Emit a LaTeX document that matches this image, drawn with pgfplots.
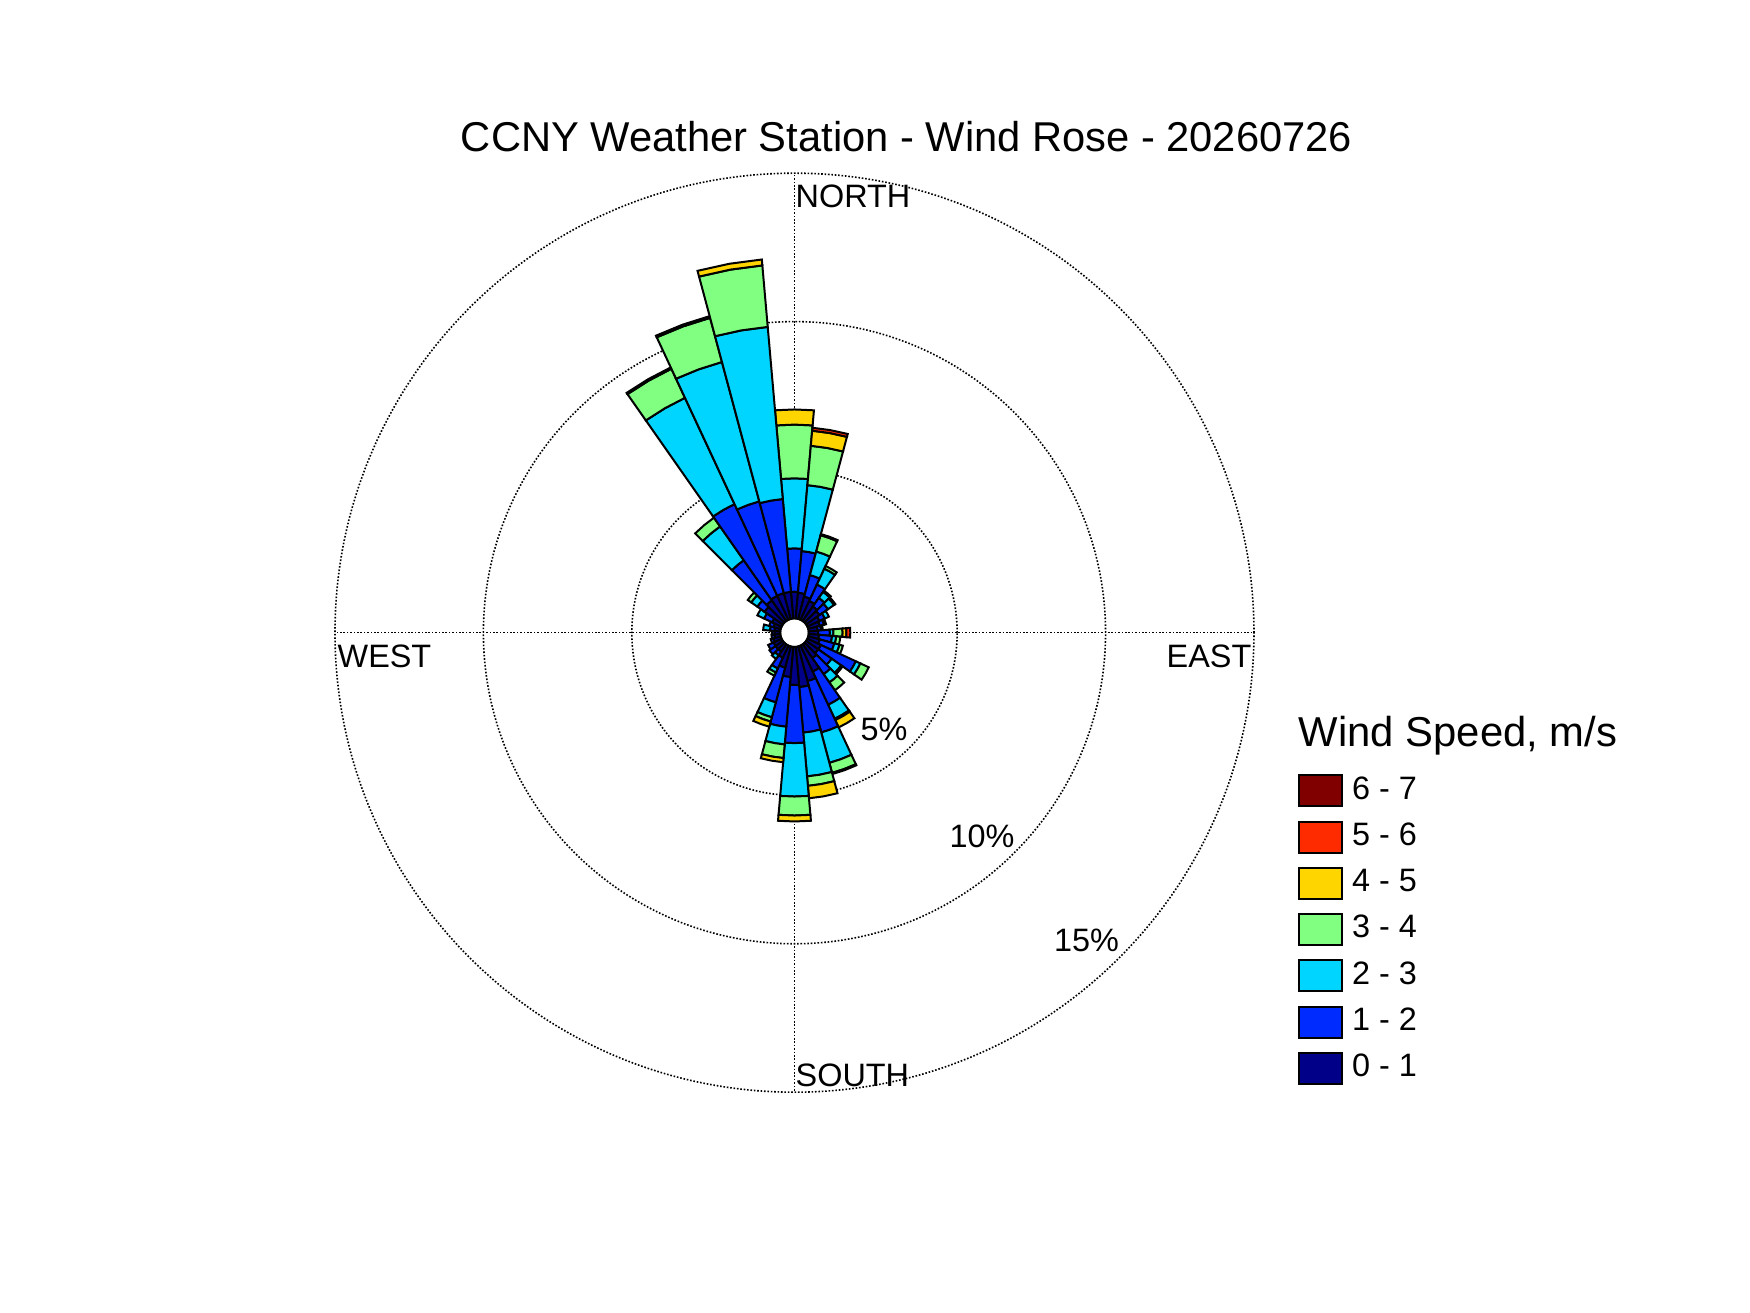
\documentclass[border=0pt]{standalone}
\usepackage{fontspec}
\setmainfont{Liberation Sans}
\usepackage{pgfplots}
\pgfplotsset{compat=1.18}
\usepackage{pgfplotstable}
\usepgfplotslibrary{polar}

\definecolor{ws1}{RGB}{0,0,136}
\definecolor{ws2}{RGB}{0,43,255}
\definecolor{ws3}{RGB}{0,213,255}
\definecolor{ws4}{RGB}{128,255,128}
\definecolor{ws5}{RGB}{255,213,0}
\definecolor{ws6}{RGB}{255,43,0}
\definecolor{ws7}{RGB}{128,0,0}

% cumulative frequency (%) at the top of each speed class, per direction (deg from north)
\pgfplotstableread{
b   c1   c2   c3   c4    c5    c6    c7
0   0.90 2.36 4.72 6.53  7.04  7.04  7.04
10  0.87 2.28 4.51 5.84  6.35  6.45  6.45
20  0.78 1.53 2.35 2.92  2.96  2.96  2.96
30  0.70 1.31 1.90 2.00  2.00  2.00  2.00
40  0.60 0.95 1.20 1.25  1.25  1.25  1.25
50  0.55 0.90 1.15 1.20  1.20  1.20  1.20
60  0.45 0.65 0.80 0.80  0.80  0.80  0.80
70  0.40 0.55 0.62 0.62  0.62  0.62  0.62
80  0.30 0.42 0.48 0.48  0.48  0.48  0.48
90  0.32 0.71 0.83 1.14  1.27  1.40  1.40
100 0.35 0.79 0.93 1.07  1.07  1.07  1.07
110 0.40 0.91 1.09 1.21  1.21  1.21  1.21
120 0.50 1.80 1.97 2.28  2.28  2.28  2.28
130 0.50 1.05 1.44 1.50  1.50  1.50  1.50
140 0.57 1.23 1.57 1.89  1.89  1.89  1.89
150 0.97 2.20 2.72 2.77  3.04  3.04  3.04
160 1.21 3.00 4.06 4.41  4.45  4.45  4.45
170 1.36 2.90 4.38 4.70  5.12  5.12  5.12
180 1.28 3.24 5.04 5.68  5.88  5.88  5.88
190 1.02 2.70 3.30 3.76  3.90  3.90  3.90
200 0.74 1.95 2.47 2.62  2.80  2.80  2.80
210 0.45 0.85 1.00 1.12  1.12  1.12  1.12
220 0.30 0.45 0.60 0.60  0.60  0.60  0.60
230 0.30 0.55 0.55 0.55  0.55  0.55  0.55
240 0.30 0.50 0.50 0.50  0.50  0.50  0.50
250 0.25 0.35 0.35 0.35  0.35  0.35  0.35
260 0.20 0.30 0.30 0.30  0.30  0.30  0.30
270 0.20 0.28 0.28 0.28  0.28  0.28  0.28
280 0.20 0.35 0.58 0.58  0.58  0.58  0.58
290 0.25 0.40 0.40 0.40  0.40  0.40  0.40
300 0.35 0.65 0.90 0.90  0.90  0.90  0.90
310 0.75 1.05 1.30 1.44  1.44  1.44  1.44
320 0.85 2.50 3.89 4.25  4.25  4.25  4.25
330 0.89 4.30 8.25 9.33  9.38  9.38  9.38
340 0.90 4.10 8.96 10.50 10.56 10.56 10.56
350 0.90 4.04 9.86 11.94 12.14 12.14 12.14
}\rose

\def\hole{0.48}
\newcommand\wedgeplot[4]{%
  \pgfmathsetmacro\aL{90-#1-5}%
  \pgfmathsetmacro\aM{90-#1}%
  \pgfmathsetmacro\aR{90-#1+5}%
  \pgfmathsetmacro\rI{#2+\hole}%
  \pgfmathsetmacro\rO{#3+\hole}%
  \edef\temp{\noexpand\addplot[forget plot, fill=#4, draw=black, line width=0.5pt, line join=miter]
    coordinates {(\aL,\rI) (\aL,\rO) (\aM,\rO) (\aR,\rO) (\aR,\rI) (\aM,\rI)} -- cycle;}%
  \temp
}
\newcommand\drawrose{%
  \pgfplotsforeachungrouped \r in {0,...,35}{%
    \edef\tmp{\noexpand\pgfplotstablegetelem{\r}{b}\noexpand\of\noexpand\rose}\tmp
    \let\bb\pgfplotsretval
    \def\prev{0}%
    \pgfplotsforeachungrouped \k in {1,...,7}{%
      \edef\tmp{\noexpand\pgfplotstablegetelem{\r}{c\k}\noexpand\of\noexpand\rose}\tmp
      \let\cur\pgfplotsretval
      \pgfmathtruncatemacro\dodraw{(\cur-\prev>0.001) ? 1 : 0}%
      \ifnum\dodraw=1 \wedgeplot{\bb}{\prev}{\cur}{ws\k}\fi
      \let\prev\cur
    }%
  }%
}

\pgfplotsset{rosebox/.style={draw=black, line width=0.5pt,
  legend image code/.code={\draw[##1] (0pt,-3.875pt) rectangle (10.75pt,3.875pt);}}}

\newcommand\lbl{\fontsize{8.1pt}{9.5pt}\selectfont}

\begin{document}
\begin{tikzpicture}
\path[use as bounding box] (-198.625pt,158.175pt) rectangle (238.875pt,-170.075pt);
\begin{polaraxis}[
  at={(0,0)}, anchor=center,
  scale only axis, width=229.75pt, height=229.75pt,
  xmin=0, xmax=360, ymin=0, ymax=15.48,
  xtick=\empty, ytick={5.48,10.48,15.48}, yticklabels={},
  ymajorgrids,
  major grid style={black, line width=0.4pt, dash pattern=on 0.4pt off 0.45pt},
  axis line style={draw=none},
  major tick length=0pt,
  clip=false,
  legend cell align=left,
  legend style={at={(1.0465,0.3468)}, anchor=north west, draw=none, fill=none,
    inner sep=0pt, font=\fontsize{8.1pt}{9pt}\selectfont, row sep=3.32pt,
    nodes={inner sep=0pt},
    /tikz/every odd column/.append style={column sep=2.4pt}},
]
\addplot[forget plot, black, line width=0.4pt, dash pattern=on 0.4pt off 0.45pt] coordinates {(0,\hole) (0,15.48)};
\addplot[forget plot, black, line width=0.4pt, dash pattern=on 0.4pt off 0.45pt] coordinates {(90,\hole) (90,15.48)};
\addplot[forget plot, black, line width=0.4pt, dash pattern=on 0.4pt off 0.45pt] coordinates {(180,\hole) (180,15.48)};
\addplot[forget plot, black, line width=0.4pt, dash pattern=on 0.4pt off 0.45pt] coordinates {(270,\hole) (270,15.48)};
\drawrose
\addlegendimage{rosebox, fill=ws7}\addlegendentry{6 - 7}
\addlegendimage{rosebox, fill=ws6}\addlegendentry{5 - 6}
\addlegendimage{rosebox, fill=ws5}\addlegendentry{4 - 5}
\addlegendimage{rosebox, fill=ws4}\addlegendentry{3 - 4}
\addlegendimage{rosebox, fill=ws3}\addlegendentry{2 - 3}
\addlegendimage{rosebox, fill=ws2}\addlegendentry{1 - 2}
\addlegendimage{rosebox, fill=ws1}\addlegendentry{0 - 1}
\end{polaraxis}
\node[font=\fontsize{10.42pt}{12pt}\selectfont, anchor=base, inner sep=0pt] at (28.0pt,120.25pt) {CCNY Weather Station - Wind Rose - 20260726};
\node[font=\lbl, anchor=base west, inner sep=0pt] at (0.1pt,106.3pt) {NORTH};
\node[font=\lbl, anchor=base west, inner sep=0pt] at (0.1pt,-113.4pt) {SOUTH};
\node[font=\lbl, anchor=base east, inner sep=0pt] at (114.4pt,-8.8pt) {EAST};
\node[font=\lbl, anchor=base west, inner sep=0pt] at (-114.4pt,-8.8pt) {WEST};
\node[font=\lbl, anchor=center, inner sep=0pt] at (22.4pt,-24.3pt) {5\%};
\node[font=\lbl, anchor=center, inner sep=0pt] at (46.9pt,-51.0pt) {10\%};
\node[font=\lbl, anchor=center, inner sep=0pt] at (73.0pt,-77.0pt) {15\%};
\node[font=\fontsize{10.45pt}{12pt}\selectfont, anchor=base west, inner sep=0pt] at (125.9pt,-28.5pt) {Wind Speed, m/s};
\end{tikzpicture}
\end{document}
